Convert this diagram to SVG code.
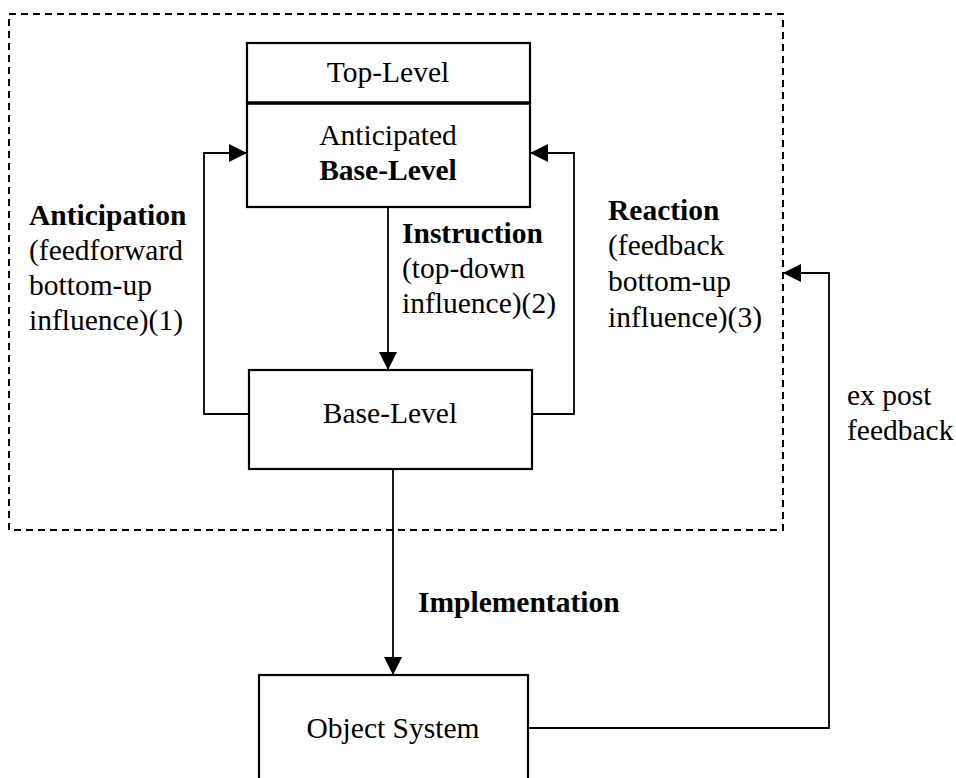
<svg xmlns="http://www.w3.org/2000/svg" width="956" height="778" viewBox="0 0 956 778">
  <style>
    .box { fill: #fff; stroke: #000; stroke-width: 2.2; }
    .frame { fill: none; stroke: #000; stroke-width: 2; stroke-dasharray: 7 5; }
    .link { fill: none; stroke: #000; stroke-width: 1.8; }
    text { font-family: "Liberation Serif", "Times New Roman", serif; font-size: 29.5px; fill: #000; }
    .b { font-weight: bold; }
    .c { text-anchor: middle; }
  </style>
  <defs>
    <marker id="arrow" viewBox="0 0 18 18" refX="18" refY="9" markerWidth="18" markerHeight="18" markerUnits="userSpaceOnUse" orient="auto">
      <path d="M0,0 L18,9 L0,18 Z" fill="#000"/>
    </marker>
  </defs>
  <rect width="956" height="778" fill="#fff"/>

  <!-- system boundary -->
  <rect class="frame" x="9" y="14" width="774" height="516"/>

  <g id="top-level">
    <rect class="box" x="247" y="43" width="283" height="60"/>
    <text class="c" x="388" y="82">Top-Level</text>
  </g>

  <g id="anticipated-base-level">
    <rect class="box" x="247" y="103" width="283" height="104"/>
    <line x1="247" y1="103" x2="530" y2="103" stroke="#000" stroke-width="3.5"/>
    <text class="c" x="388" y="145">Anticipated</text>
    <text class="c b" x="388" y="180">Base-Level</text>
  </g>

  <g id="base-level">
    <rect class="box" x="249" y="370" width="283" height="99"/>
    <text class="c" x="390" y="423">Base-Level</text>
  </g>

  <g id="object-system">
    <rect class="box" x="259" y="675" width="269" height="120"/>
    <text class="c" x="393" y="738">Object System</text>
  </g>

  <g id="connectors">
    <polyline class="link" points="249,414 204,414 204,153 247,153" marker-end="url(#arrow)"/>
    <polyline class="link" points="532,414 574,414 574,153 530,153" marker-end="url(#arrow)"/>
    <line class="link" x1="388" y1="207" x2="388" y2="370" marker-end="url(#arrow)"/>
    <line class="link" x1="393" y1="469" x2="393" y2="675" marker-end="url(#arrow)"/>
    <polyline class="link" points="528,728 829,728 829,273 783,273" marker-end="url(#arrow)"/>
  </g>

  <g id="labels">
    <text class="b" x="29" y="225">Anticipation</text>
    <text x="29" y="260">(feedforward</text>
    <text x="29" y="295">bottom-up</text>
    <text x="29" y="330">influence)(1)</text>

    <text class="b" x="402" y="243">Instruction</text>
    <text x="402" y="278">(top-down</text>
    <text x="402" y="313">influence)(2)</text>

    <text class="b" x="608" y="220">Reaction</text>
    <text x="608" y="255">(feedback</text>
    <text x="608" y="291">bottom-up</text>
    <text x="608" y="327">influence)(3)</text>

    <text x="847" y="405">ex post</text>
    <text x="847" y="440">feedback</text>

    <text class="b" x="418" y="612">Implementation</text>
  </g>
</svg>
